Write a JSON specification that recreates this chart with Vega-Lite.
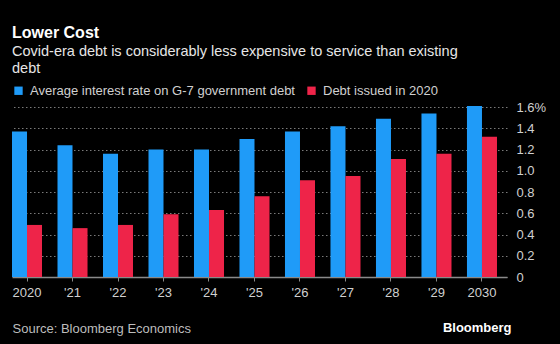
{
  "$schema": "https://vega.github.io/schema/vega-lite/v6.json",
  "autosize": "none",
  "width": 495,
  "height": 170,
  "padding": {"left": 12, "top": 107, "right": 53, "bottom": 67},
  "background": "#000000",
  "title": {
    "text": "Lower Cost",
    "subtitle": ["Covid-era debt is considerably less expensive to service than existing", "debt"],
    "anchor": "start",
    "frame": "group",
    "font": "Liberation Sans",
    "fontSize": 16,
    "fontWeight": "bold",
    "color": "#ffffff",
    "subtitleFont": "Liberation Sans",
    "subtitleFontSize": 14.5,
    "subtitleColor": "#e6e6e6",
    "subtitleLineHeight": 17,
    "subtitlePadding": 4,
    "offset": 9
  },
  "data": {
    "values": [
      {"year": "2020", "series": "Average interest rate on G-7 government debt", "value": 1.37},
      {"year": "2021", "series": "Average interest rate on G-7 government debt", "value": 1.24},
      {"year": "2022", "series": "Average interest rate on G-7 government debt", "value": 1.16},
      {"year": "2023", "series": "Average interest rate on G-7 government debt", "value": 1.2},
      {"year": "2024", "series": "Average interest rate on G-7 government debt", "value": 1.2},
      {"year": "2025", "series": "Average interest rate on G-7 government debt", "value": 1.3},
      {"year": "2026", "series": "Average interest rate on G-7 government debt", "value": 1.37},
      {"year": "2027", "series": "Average interest rate on G-7 government debt", "value": 1.42},
      {"year": "2028", "series": "Average interest rate on G-7 government debt", "value": 1.49},
      {"year": "2029", "series": "Average interest rate on G-7 government debt", "value": 1.54},
      {"year": "2030", "series": "Average interest rate on G-7 government debt", "value": 1.61},
      {"year": "2020", "series": "Debt issued in 2020", "value": 0.49},
      {"year": "2021", "series": "Debt issued in 2020", "value": 0.46},
      {"year": "2022", "series": "Debt issued in 2020", "value": 0.49},
      {"year": "2023", "series": "Debt issued in 2020", "value": 0.59},
      {"year": "2024", "series": "Debt issued in 2020", "value": 0.63},
      {"year": "2025", "series": "Debt issued in 2020", "value": 0.76},
      {"year": "2026", "series": "Debt issued in 2020", "value": 0.91},
      {"year": "2027", "series": "Debt issued in 2020", "value": 0.95},
      {"year": "2028", "series": "Debt issued in 2020", "value": 1.11},
      {"year": "2029", "series": "Debt issued in 2020", "value": 1.16},
      {"year": "2030", "series": "Debt issued in 2020", "value": 1.32}
    ]
  },
  "mark": {"type": "bar"},
  "encoding": {
    "x": {
      "field": "year",
      "type": "nominal",
      "scale": {"paddingInner": 0.34, "paddingOuter": 0.11, "align": 0},
      "axis": {
        "title": "Source: Bloomberg Economics",
        "titleFont": "Liberation Sans",
        "titleFontSize": 13,
        "titleFontWeight": "normal",
        "titleColor": "#bdbdbd",
        "titleAnchor": "start",
        "titleAlign": "left",
        "titleBaseline": "alphabetic",
        "titleX": 0,
        "titleY": 55,
        "labelAngle": 0,
        "labelFont": "Liberation Sans",
        "labelFontSize": 13,
        "labelColor": "#d0d0d0",
        "labelPadding": 5,
        "labelExpr": "datum.value == '2020' || datum.value == '2030' ? datum.value : \"'\" + slice(datum.value, 2)",
        "domainColor": "#8a8a8a",
        "domainWidth": 1.5,
        "tickColor": "#8a8a8a",
        "tickSize": 4,
        "grid": false
      }
    },
    "xOffset": {
      "field": "series",
      "type": "nominal",
      "scale": {"paddingInner": 0, "paddingOuter": 0}
    },
    "y": {
      "field": "value",
      "type": "quantitative",
      "scale": {"domain": [0, 1.6]},
      "axis": {
        "orient": "right",
        "values": [0, 0.2, 0.4, 0.6, 0.8, 1.0, 1.2, 1.4, 1.6],
        "labelExpr": "datum.value == 0 ? '0' : datum.value == 1.6 ? '1.6%' : format(datum.value, '.1f')",
        "labelFont": "Liberation Sans",
        "labelFontSize": 13,
        "labelColor": "#d0d0d0",
        "labelPadding": 9,
        "labelAlign": "left",
        "domain": false,
        "ticks": false,
        "grid": true,
        "gridColor": "#7a7a7a",
        "gridDash": [1.5, 2.5],
        "gridWidth": 1,
        "title": "Bloomberg",
        "titleAngle": 0,
        "titleFont": "Liberation Sans",
        "titleFontSize": 13,
        "titleFontWeight": "bold",
        "titleColor": "#ffffff",
        "titleAlign": "right",
        "titleBaseline": "alphabetic",
        "titleX": 4,
        "titleY": 224
      }
    },
    "color": {
      "field": "series",
      "type": "nominal",
      "scale": {
        "domain": ["Average interest rate on G-7 government debt", "Debt issued in 2020"],
        "range": ["#1f9bf8", "#ee2449"]
      },
      "legend": {
        "title": null,
        "orient": "none",
        "direction": "horizontal",
        "legendX": 0,
        "legendY": -23,
        "symbolType": "square",
        "symbolSize": 70,
        "symbolStrokeWidth": 0,
        "labelFont": "Liberation Sans",
        "labelFontSize": 13,
        "labelColor": "#d0d0d0",
        "labelOffset": 5,
        "labelLimit": 0,
        "columnPadding": 10
      }
    }
  },
  "config": {"view": {"stroke": null}}
}
